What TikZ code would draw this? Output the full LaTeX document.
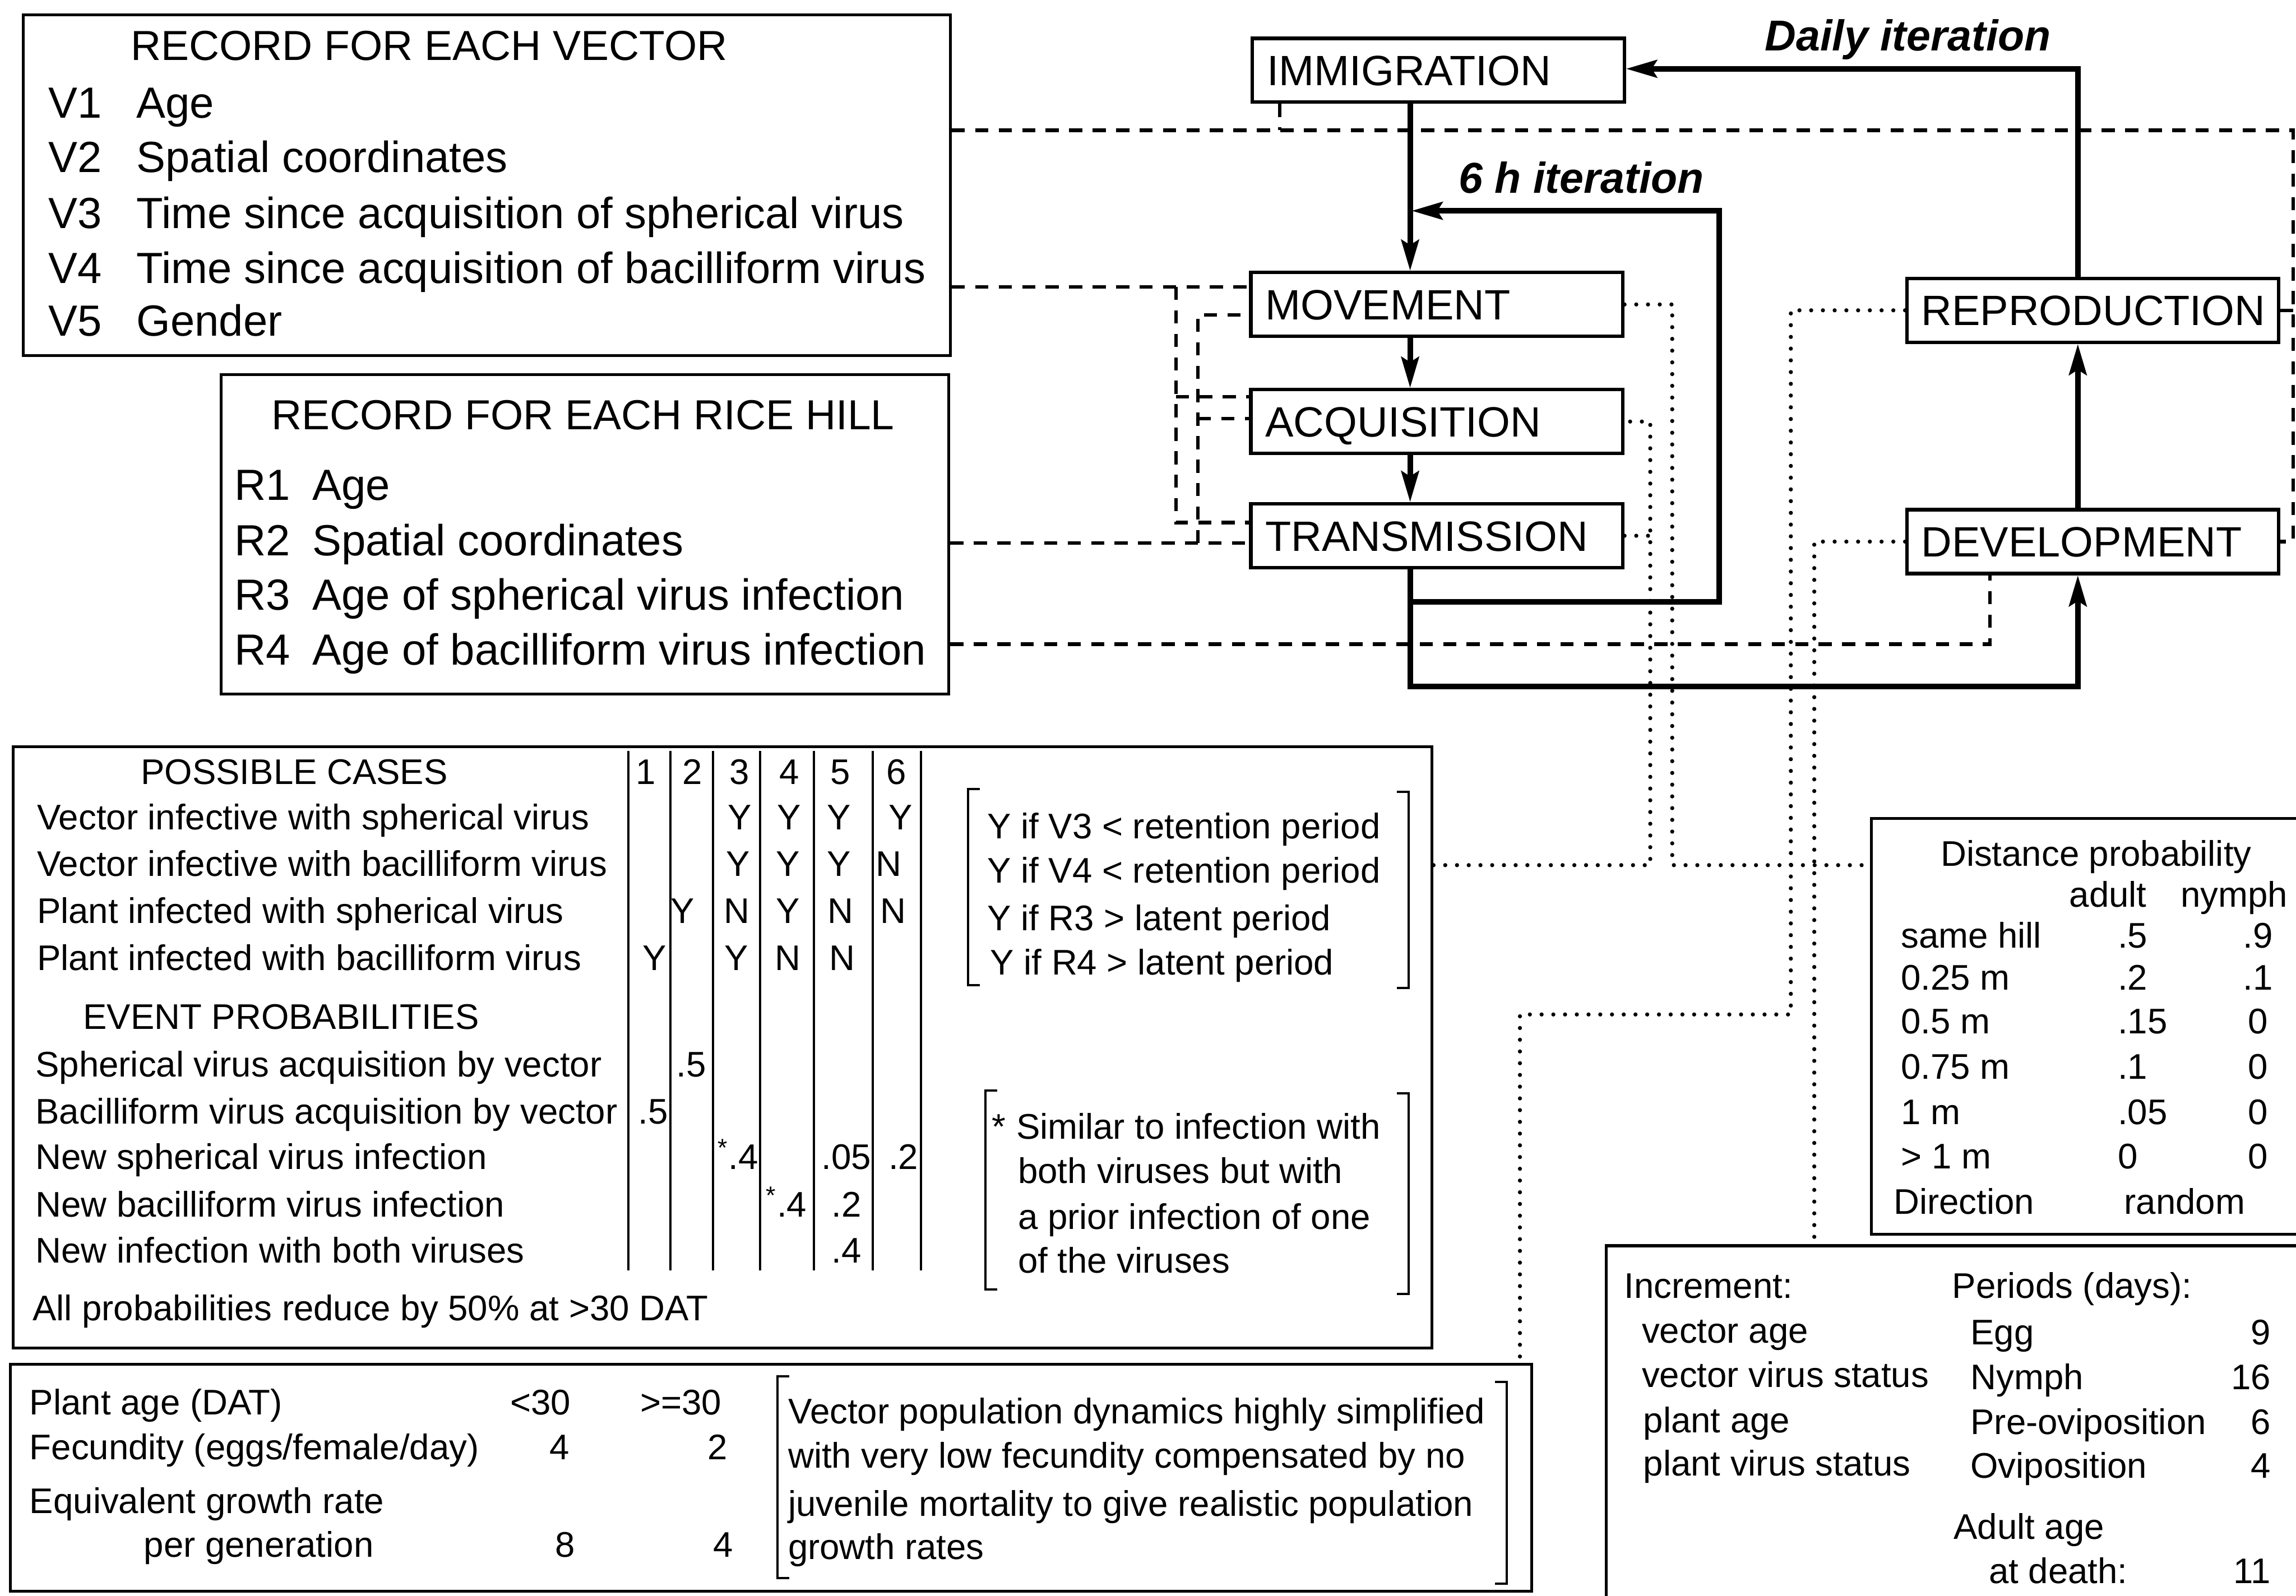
\documentclass[tikz,border=0pt]{standalone}
\usepackage{fontspec}
\setmainfont{Liberation Sans}
\usetikzlibrary{arrows.meta,fit}
\begin{document}
\begin{tikzpicture}[x=0.7113pt,y=-0.7113pt,
 frame/.style={draw,line width=1.4pt,inner sep=0pt},
 pbox/.style={draw,line width=1.7pt,anchor=north west,minimum width=180.7pt,minimum height=31pt,text width=166.5pt,align=left,inner xsep=7.1pt,inner ysep=0pt,font=\fontsize{20.6}{24}\selectfont,text height=14.8pt,text depth=0pt},
 bigt/.style={anchor=west,inner sep=0pt,font=\fontsize{21.2}{25}\selectfont,text height=15.2pt,text depth=0pt},
 titt/.style={bigt,font=\fontsize{20.4}{24}\selectfont,text height=14.6pt},
 smt/.style={anchor=west,inner sep=0pt,font=\fontsize{17.3}{21}\selectfont,text height=12.4pt,text depth=0pt},
 smc/.style={smt,anchor=center},
 sme/.style={smt,anchor=east},
 itl/.style={anchor=center,inner sep=0pt,font=\fontsize{21}{25}\selectfont\bfseries\itshape,text height=15pt,text depth=0pt},
 thk/.style={line width=2.7pt,line join=miter},
 thkarr/.style={thk,-{Stealth[length=15pt,width=8.5pt,inset=2.5pt]}},
 dsh/.style={line width=1.7pt,dash pattern=on 6.4pt off 5pt},
 dot/.style={line width=2pt,line cap=round,dash pattern=on 0pt off 5.7pt},
 rule/.style={line width=1.1pt},
 brk/.style={line width=1.1pt}
]
\useasboundingbox (0,0) rectangle (1568,1090);
\clip (0,0) rectangle (1568,1090);
\fill[white] (0,0) rectangle (1568,1090);

% ---------- record boxes ----------
\node[frame,fit={(16,10) (649,243)}] (vecbox) {};
\node[titt] (vt) at (89,31) {RECORD FOR EACH VECTOR};
\foreach \y/\l/\t [count=\i] in {70/V1/Age, 107/V2/Spatial coordinates, 145.5/V3/Time since acquisition of spherical virus, 183/V4/Time since acquisition of bacilliform virus, 219/V5/Gender}{
  \node[bigt] (vl\i) at (33,\y) {\l};
  \node[bigt] (vx\i) at (93,\y) {\t};
}
\node[frame,fit={(151,256) (648,474)}] (ricebox) {};
\node[titt] (rt) at (185,283) {RECORD FOR EACH RICE HILL};
\foreach \y/\l/\t [count=\i] in {331/R1/Age, 369/R2/Spatial coordinates, 406/R3/Age of spherical virus infection, 443.5/R4/Age of bacilliform virus infection}{
  \node[bigt] (rl\i) at (160,\y) {\l};
  \node[bigt] (rx\i) at (213,\y) {\t};
}

% ---------- process boxes ----------
\node[pbox] (imm) at (854,25) {IMMIGRATION};
\node[pbox] (mov) at (853,185) {MOVEMENT};
\node[pbox] (acq) at (853,265) {ACQUISITION};
\node[pbox] (trans) at (853,343) {TRANSMISSION};
\node[pbox] (rep) at (1301,189) {REPRODUCTION};
\node[pbox] (dev) at (1301,347) {DEVELOPMENT};

\node[itl] (daily) at (1303,24) {Daily iteration};
\node[itl] (sixh) at (1080,121.5) {6 h iteration};

% ---------- tables ----------
\node[frame,fit={(9,510) (978,921)}] (bigtab) {};
\node[frame,fit={(7,932) (1046,1087)}] (plantbox) {};
\node[frame,fit={(1278,559) (1600,843)}] (dist) {};
\node[frame,fit={(1097,851) (1600,1120)}] (incbox) {};

% ---------- thick flow ----------
\coordinate (ax) at (963,0);
\coordinate (c6a) at (963,411);
\coordinate (c6b) at (1174,411);
\coordinate (c6c) at (1174,144);
\coordinate (c6d) at (964,144);
\coordinate (dl1) at (963,469);
\coordinate (dl2) at (1419,469);
\coordinate (dtop) at (1419,47);
\draw[thkarr] (imm.south -| ax) -- (mov.north -| ax);
\draw[thkarr] (mov.south -| ax) -- (acq.north -| ax);
\draw[thkarr] (acq.south -| ax) -- (trans.north -| ax);
\draw[thkarr] (trans.south -| ax) -- (dl1) -- (dl2) -- (dev.south -| dl2);
\draw[thkarr] (c6a) -- (c6b) -- (c6c) -- (c6d);
\draw[thkarr] (dev.north -| dl2) -- (rep.south -| dl2);
\draw[thkarr] (rep.north -| dl2) -- (dtop) -- (imm.east |- dtop);

% ---------- dashed data links ----------
\coordinate (dTL) at (874,89);
\coordinate (dTR) at (1566,89);
\draw[dsh] (vecbox.east |- dTL) -- (dTR) -- (dTR |- dev.east) -- (dev.east);
\draw[dsh] (imm.south -| dTL) -- (dTL);
\draw[dsh] (rep.east) -- (rep.east -| dTR);
\coordinate (oT) at (803,196);
\coordinate (oA) at (803,271);
\coordinate (oB) at (803,357);
\coordinate (iT) at (818,215);
\coordinate (iA) at (818,286);
\coordinate (iB) at (818,371);
\draw[dsh] (vecbox.east |- oT) -- (mov.west |- oT);
\draw[dsh] (oT) -- (oB) -- (trans.west |- oB);
\draw[dsh] (oA) -- (acq.west |- oA);
\draw[dsh] (ricebox.east |- iB) -- (trans.west |- iB);
\draw[dsh] (iB) -- (iT) -- (mov.west |- iT);
\draw[dsh] (iA) -- (acq.west |- iA);
\coordinate (r4c) at (1359,440);
\draw[dsh] (ricebox.east |- r4c) -- (r4c) -- (dev.south -| r4c);

% ---------- dotted parameter links ----------
\coordinate (pA) at (1127,591);
\coordinate (pM) at (1142,591);
\coordinate (pR1) at (1223,693);
\coordinate (pR2) at (1038,693);
\coordinate (pD) at (1239,851);
\draw[dot] (bigtab.east |- pA) -- (pA) -- (pA |- acq.east) -- (acq.east);
\draw[dot] (trans.east) -- (trans.east -| pA);
\draw[dot] (mov.east) -- (mov.east -| pM) -- (pM) -- (dist.west |- pM);
\draw[dot] (rep.west) -- (rep.west -| pR1) -- (pR1) -- (pR2) -- (pR2 |- plantbox.north);
\draw[dot] (dev.west) -- (dev.west -| pD) -- (incbox.north -| pD);

% ---------- big table content ----------
\foreach \x in {429,458,487,519,556,596,629} \draw[rule] (\x,513) -- (\x,868);
\node[smc] (pc) at (201,527) {POSSIBLE CASES};
\foreach \x/\n in {441/1,473/2,505/3,539/4,574/5,612/6} \node[smc] (h\n) at (\x,527) {\n};
\node[smt] (ro1) at (25,558) {Vector infective with spherical virus};
\node[smt] (ro2) at (25,590) {Vector infective with bacilliform virus};
\node[smt] (ro3) at (25,622) {Plant infected with spherical virus};
\node[smt] (ro4) at (25,654) {Plant infected with bacilliform virus};
\node[smc] (ep) at (192,694.5) {EVENT PROBABILITIES};
\node[smt] (e1) at (24,727) {Spherical virus acquisition by vector};
\node[smt] (e2) at (24,759) {Bacilliform virus acquisition by vector};
\node[smt] (e3) at (24,790) {New spherical virus infection};
\node[smt] (e4) at (24,822.5) {New bacilliform virus infection};
\node[smt] (e5) at (24,854) {New infection with both viruses};
\node[smt] (allp) at (22,893.5) {All probabilities reduce by 50\% at >30 DAT};
\foreach \x/\y/\t [count=\i] in {505/558/Y, 539/558/Y, 573/558/Y, 615/558/Y, 504/590/Y, 538/590/Y, 573/590/Y, 607/590/N, 466/622/Y, 503/622/N, 538/622/Y, 574/622/N, 610/622/N, 447/654/Y, 503/654/Y, 538/654/N, 575/654/N, 472/727/.5, 446/759/.5, 578/790/.05, 617/790/.2, 578/822.5/.2, 578/854/.4}
  \node[smc] (yn\i) at (\x,\y) {\t};
\node[smt] (st1) at (490,790) {\textsuperscript{*}.4};
\node[smt] (st2) at (523,822.5) {\textsuperscript{*}.4};
\draw[brk] (669,539) -- (661,539) -- (661,673) -- (669,673);
\draw[brk] (954,541) -- (962,541) -- (962,675) -- (954,675);
\node[smt] (b1) at (674,564) {Y if V3 < retention period};
\node[smt] (b2) at (674,594.5) {Y if V4 < retention period};
\node[smt] (b3) at (674,627) {Y if R3 > latent period};
\node[smt] (b4) at (676,657) {Y if R4 > latent period};
\draw[brk] (681,745) -- (673,745) -- (673,881) -- (681,881);
\draw[brk] (954,747) -- (962,747) -- (962,884) -- (954,884);
\node[smt] (s1) at (677,769.5) {*\hspace{0.3em}Similar to infection with};
\node[smt] (s2) at (695,799.5) {both viruses but with};
\node[smt] (s3) at (695,831) {a prior infection of one};
\node[smt] (s4) at (695,861) {of the viruses};

% ---------- plant age box ----------
\node[smt] (pa) at (20,957.5) {Plant age (DAT)};
\node[smc] (pa1) at (369,957.5) {<30};
\node[smc] (pa2) at (465,957.5) {>=30};
\node[smt] (fe) at (20,988.5) {Fecundity (eggs/female/day)};
\node[smc] (fe1) at (382,988.5) {4};
\node[smc] (fe2) at (490,988.5) {2};
\node[smt] (eg) at (20,1025) {Equivalent growth rate};
\node[smt] (pg) at (98,1055) {per generation};
\node[smc] (pg1) at (386,1055) {8};
\node[smc] (pg2) at (494,1055) {4};
\draw[brk] (539,940) -- (531,940) -- (531,1078) -- (539,1078);
\draw[brk] (1021,944) -- (1029,944) -- (1029,1082) -- (1021,1082);
\node[smt] (vp1) at (538,964) {Vector population dynamics highly simplified};
\node[smt] (vp2) at (538,994) {with very low fecundity compensated by no};
\node[smt] (vp3) at (538,1027) {juvenile mortality to give realistic population};
\node[smt] (vp4) at (538,1056.5) {growth rates};

% ---------- distance box ----------
\node[smc] (dp) at (1431.5,583) {Distance probability};
\node[smt] (dad) at (1413,611) {adult};
\node[smt] (dny) at (1489,611) {nymph};
\foreach \y/\l/\a/\n [count=\i] in {639/same hill/.5/.9, 667.5/0.25 m/.2/.1, 697.5/0.5 m/.15/0, 728.5/0.75 m/.1/0, 759.5/1 m/.05/0, 789.5/> 1 m/0/0}{
  \node[smt] (dl\i) at (1298,\y) {\l};
  \node[smt] (da\i) at (1446,\y) {\a};
  \node[smc] (dn\i) at (1542,\y) {\n};
}
\node[smt] (ddir) at (1293,820.5) {Direction};
\node[smc] (drn) at (1492,820.5) {random};

% ---------- increment box ----------
\node[smt] (inc) at (1109,878) {Increment:};
\node[smt] (i1) at (1121,908.5) {vector age};
\node[smt] (i2) at (1121,939) {vector virus status};
\node[smt] (i3) at (1122,970) {plant age};
\node[smt] (i4) at (1122,999.5) {plant virus status};
\node[smt] (per) at (1333,878) {Periods (days):};
\node[smt] (q1) at (1345.5,910) {Egg};
\node[smt] (q2) at (1345.5,940.5) {Nymph};
\node[smt] (q3) at (1345.5,971) {Pre-oviposition};
\node[smt] (q4) at (1345.5,1001) {Oviposition};
\node[sme] (n1) at (1551,910) {9};
\node[sme] (n2) at (1551,940.5) {16};
\node[sme] (n3) at (1551,971) {6};
\node[sme] (n4) at (1551,1001) {4};
\node[smt] (aa) at (1334,1042.5) {Adult age};
\node[smt] (ad) at (1358,1073) {at death:};
\node[sme] (n5) at (1551,1073) {11};
\end{tikzpicture}
\end{document}
